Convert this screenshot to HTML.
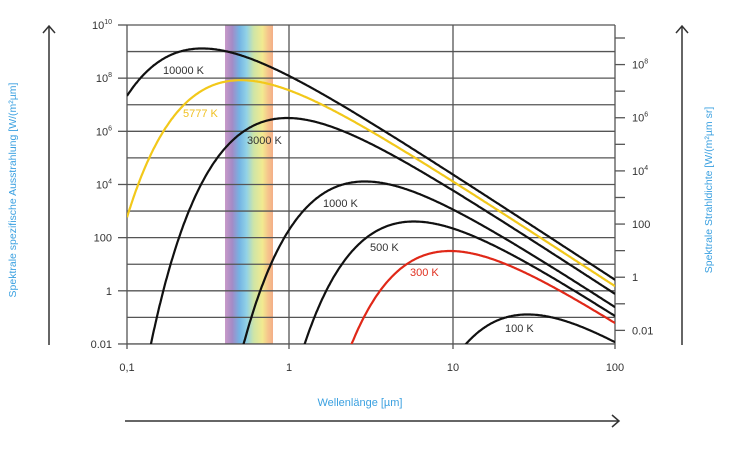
<!DOCTYPE html>
<html><head><meta charset="utf-8"><style>
html,body{margin:0;padding:0;background:#fff;}
svg{display:block;font-family:"Liberation Sans",sans-serif;}
</style></head><body>
<svg id="s" width="736" height="449" viewBox="0 0 736 449" xmlns="http://www.w3.org/2000/svg">
<defs>
<linearGradient id="vis" x1="0" x2="1" y1="0" y2="0">
<stop offset="0" stop-color="#c89ac8"/>
<stop offset="0.15" stop-color="#a48ac6"/>
<stop offset="0.3" stop-color="#74b4e4"/>
<stop offset="0.45" stop-color="#92d2e6"/>
<stop offset="0.6" stop-color="#cfe5a6"/>
<stop offset="0.78" stop-color="#f2ea90"/>
<stop offset="0.9" stop-color="#f6c48c"/>
<stop offset="1" stop-color="#f4ae88"/>
</linearGradient>
<clipPath id="cp"><rect x="127" y="25" width="488" height="319"/></clipPath>
</defs>
<rect x="225" y="25" width="48" height="319" fill="url(#vis)"/>
<g id="grid" stroke="#555" stroke-width="1.3"></g>
<g id="curves" clip-path="url(#cp)" fill="none" stroke-width="2.2"></g>
<g fill="#333" font-size="11">
<text x="163" y="74">10000 K</text>
<text x="183" y="117" fill="#f0c020">5777 K</text>
<text x="247" y="144">3000 K</text>
<text x="323" y="207">1000 K</text>
<text x="370" y="251">500 K</text>
<text x="410" y="276" fill="#e03020">300 K</text>
<text x="505" y="332">100 K</text>
</g>
<g id="labels" fill="#333" font-size="11"></g>
<g stroke="#333" stroke-width="1.5" fill="none">
<line x1="49" y1="345" x2="49" y2="26"/><polyline points="43,33 49,26 55,33"/>
<line x1="682" y1="345" x2="682" y2="26"/><polyline points="676,33 682,26 688,33"/>
<line x1="125" y1="421" x2="619" y2="421"/><polyline points="612,415 619,421 612,427"/>
</g>
<text x="360" y="406" fill="#3aa0e0" font-size="11" text-anchor="middle">Wellenlänge [µm]</text>
<text transform="translate(16,190) rotate(-90)" fill="#3aa0e0" font-size="10.5" text-anchor="middle">Spektrale spezifische Ausstrahlung [W/(m²µm]</text>
<text transform="translate(712,190) rotate(-90)" fill="#3aa0e0" font-size="10.5" text-anchor="middle">Spektrale Strahldichte [W/(m²µm sr]</text>
</svg>
<script>
const NS="http://www.w3.org/2000/svg";
const X0=127,DX=162.7,Y1=290.8,DY=26.6;
const fx=l=>X0+(Math.log10(l)+1)*DX, fy=v=>Y1-Math.log10(v)*DY;
function el(p,t,a,txt){const e=document.createElementNS(NS,t);for(const k in a)e.setAttribute(k,a[k]);if(txt!=null)e.textContent=txt;p.appendChild(e);return e;}
const g=document.getElementById('grid');
for(let i=0;i<=12;i++){const y=25+i*26.58;el(g,'line',{x1:127,x2:615,y1:y,y2:y});}
[127,289,453,615].forEach(x=>el(g,'line',{x1:x,x2:x,y1:25,y2:349}));
const L=document.getElementById('labels');
const left=[["10","10"],["10","8"],["10","6"],["10","4"],["100"],["1"],["0.01"]];
left.forEach((t,i)=>{const y=25+i*2*26.58;el(g,'line',{x1:118,x2:127,y1:y,y2:y});
 const tx=el(L,'text',{x:112,y:y+4,'text-anchor':'end'},t[0]);
 if(t[1]){const ts=el(tx,'tspan',{'font-size':'7',dy:'-5'},t[1]);}});
for(let i=0;i<12;i++){const y=38+i*26.58;el(g,'line',{x1:615,x2:625,y1:y,y2:y});}
const right=[["10","8"],["10","6"],["10","4"],["100"],["1"],["0.01"]];
right.forEach((t,i)=>{const y=64.5+i*2*26.58;const tx=el(L,'text',{x:632,y:y+4},t[0]);if(t[1])el(tx,'tspan',{'font-size':'7',dy:'-5'},t[1]);});
[["0,1",127],["1",289],["10",453],["100",615]].forEach(a=>el(L,'text',{x:a[1],y:371,'text-anchor':'middle'},a[0]));
const C=document.getElementById('curves');
const h=6.626e-34,c=2.998e8,k=1.381e-23;
[[10000,'#111'],[5777,'#f2c81a'],[3000,'#111'],[1000,'#111'],[500,'#111'],[300,'#e02818'],[100,'#111']].forEach(([T,col])=>{
 let d='';for(let i=0;i<=600;i++){const ll=-1+3*i/600;const lm=Math.pow(10,ll)*1e-6;
  const x=h*c/(lm*k*T);let M=2*Math.PI*h*c*c/Math.pow(lm,5)/Math.expm1(x)*1e-6;
  if(!(M>0))M=1e-30;let y=fy(M);if(y>400)y=400;
  d+=(i?'L':'M')+fx(Math.pow(10,ll)).toFixed(1)+' '+y.toFixed(1);}
 el(C,'path',{d:d,stroke:col});});
</script>
</body></html>
